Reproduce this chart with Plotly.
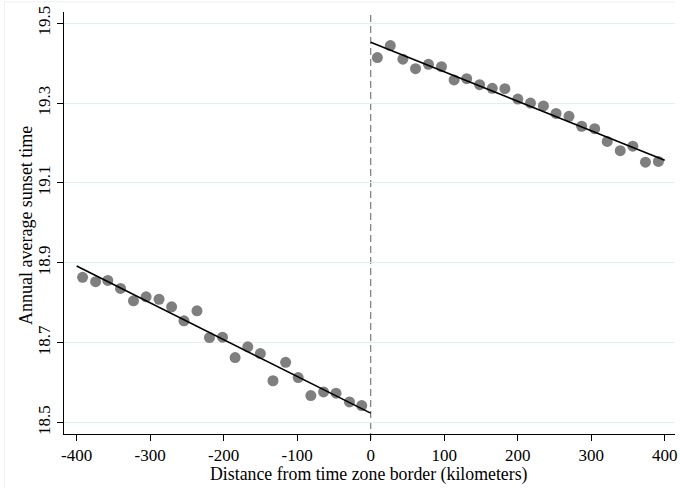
import plotly.graph_objects as go

# Left of border (bin centers, km) and mean sunset time
left_x = [-391.9, -374.2, -357.6, -340.3, -322.7, -305.5, -287.9, -270.8, -254.0, -236.3,
          -219.3, -201.6, -184.4, -167.2, -150.1, -132.9, -115.7, -98.6, -81.4, -64.1,
          -47.1, -28.9, -12.2]
left_y = [18.864, 18.853, 18.856, 18.836, 18.805, 18.815, 18.809, 18.790, 18.755, 18.780,
          18.713, 18.714, 18.663, 18.690, 18.673, 18.605, 18.651, 18.613, 18.568, 18.577,
          18.574, 18.552, 18.543]

# Right of border
right_x = [9.1, 26.7, 43.8, 61.0, 78.6, 96.3, 113.5, 130.6, 148.2, 165.4, 182.6, 200.2,
           217.4, 235.0, 252.2, 269.8, 287.0, 304.7, 321.8, 339.5, 356.6, 373.8, 391.4]
right_y = [19.414, 19.444, 19.410, 19.386, 19.397, 19.391, 19.358, 19.361, 19.346, 19.337,
           19.336, 19.310, 19.300, 19.293, 19.274, 19.267, 19.242, 19.236, 19.204, 19.181,
           19.192, 19.152, 19.154]

# Linear fit lines (endpoints)
fit_left_x = [-400, 0]
fit_left_y = [18.892, 18.524]
fit_right_x = [0, 400]
fit_right_y = [19.452, 19.157]

x_ticks = [-400, -300, -200, -100, 0, 100, 200, 300, 400]
y_ticks = [18.5, 18.7, 18.9, 19.1, 19.3, 19.5]
y_tick_labels = ["18.5", "18.7", "18.9", "19.1", "19.3", "19.5"]

x_title = "Distance from time zone border (kilometers)"
y_title = "Annual average sunset time"

FONT = "Liberation Serif, Times New Roman, serif"
marker = dict(color="#7f7f7f", size=11, line=dict(width=0))

fig = go.Figure()
fig.add_trace(go.Scatter(x=left_x, y=left_y, mode="markers", marker=marker, showlegend=False))
fig.add_trace(go.Scatter(x=right_x, y=right_y, mode="markers", marker=marker, showlegend=False))
fig.add_trace(go.Scatter(x=fit_left_x, y=fit_left_y, mode="lines",
                         line=dict(color="black", width=1.6), showlegend=False))
fig.add_trace(go.Scatter(x=fit_right_x, y=fit_right_y, mode="lines",
                         line=dict(color="black", width=1.6), showlegend=False))

fig.add_shape(type="line", xref="x", yref="paper", x0=0, x1=0, y0=-0.014, y1=1,
              line=dict(color="#858585", width=1.3, dash="7px,4px"), layer="below")

# faint outer graph-region border (left & top)
fig.add_shape(type="line", xref="paper", yref="paper", x0=-0.0975, x1=-0.0975, y0=-0.127, y1=1.024,
              line=dict(color="#eef0f0", width=1))
fig.add_shape(type="line", xref="paper", yref="paper", x0=-0.0975, x1=1.0, y0=1.024, y1=1.024,
              line=dict(color="#eef0f0", width=1))

fig.add_annotation(text=x_title, xref="paper", yref="paper", x=0.499, y=-0.097,
                   xanchor="center", yanchor="middle", showarrow=False,
                   font=dict(family=FONT, size=17.8, color="black"))
fig.add_annotation(text=y_title, xref="paper", yref="paper", x=-0.062, y=0.493,
                   xanchor="center", yanchor="middle", showarrow=False, textangle=-90,
                   font=dict(family=FONT, size=18, color="black"))

fig.update_layout(
    width=680, height=490,
    margin=dict(l=64, r=3, t=12, b=56),
    paper_bgcolor="white", plot_bgcolor="white",
    font=dict(family=FONT, size=17, color="black"),
    xaxis=dict(
        range=[-417.2, 414], tickvals=x_ticks, ticktext=[str(v) for v in x_ticks],
        showgrid=False, zeroline=False, showline=True, linecolor="black", linewidth=1,
        ticks="outside", ticklen=6, tickwidth=1, tickcolor="black",
        tickfont=dict(family=FONT, size=17),
    ),
    yaxis=dict(
        range=[18.4717, 19.528], tickvals=y_ticks, ticktext=y_tick_labels,
        showgrid=True, gridcolor="#e3eeee", gridwidth=1,
        zeroline=False, showline=True, linecolor="black", linewidth=1,
        ticks="outside", ticklen=6, tickwidth=1, tickcolor="black",
        tickangle=-90, tickfont=dict(family=FONT, size=17),
    ),
)

fig.write_html("out.html")
